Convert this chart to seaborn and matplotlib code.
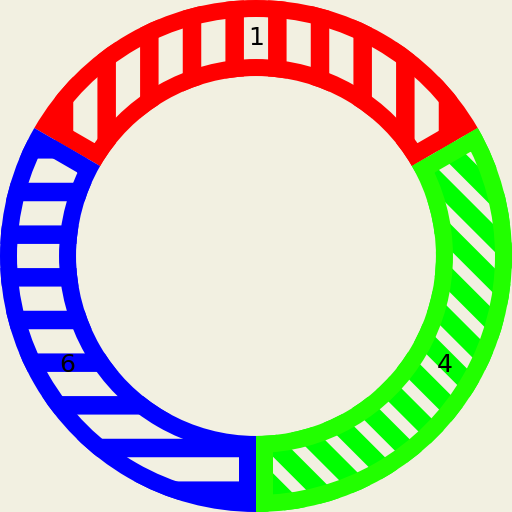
import matplotlib
matplotlib.use("Agg")
import matplotlib.pyplot as plt
import seaborn as sns

# wedge data (counterclockwise from 30 degrees)
labels = ["1", "6", "4"]
sizes = [1, 1, 1]
edge_colors = ["#ff0000", "#0000ff", "#22ff00"]
hatch_colors = ["#ff0000", "#0000ff", "#00ff00"]
hatches = ["|", "-", "\\\\"]

bg = "#f2f0e1"
DPI = 256

sns.set_theme(style="white", rc={"figure.facecolor": bg, "axes.facecolor": bg})
plt.rcParams["font.family"] = ["DejaVu Sans"]
plt.rcParams["hatch.linewidth"] = 5.2

fig = plt.figure(figsize=(512 / DPI, 512 / DPI), dpi=DPI)
ax = fig.add_axes([0, 0, 1, 1])

ring = 0.297

# hatched fill layer
fill_wedges, _ = ax.pie(sizes, startangle=30, radius=1, hatch=hatches,
                        colors=[bg] * 3,
                        wedgeprops=dict(width=ring, linewidth=0))
for w, c in zip(fill_wedges, hatch_colors):
    w.set_edgecolor(c)
    w.set_linewidth(0)

# outline layer (stroke kept inside each wedge) with labels
edge_wedges, texts = ax.pie(sizes, startangle=30, radius=1, labels=labels,
                            labeldistance=0.85,
                            textprops=dict(fontsize=25 * 72 / DPI, color="black"),
                            wedgeprops=dict(width=ring, linewidth=34 * 72 / DPI,
                                            facecolor="none"))
for w, fw, c in zip(edge_wedges, fill_wedges, edge_colors):
    w.set_edgecolor(c)
    w.set_facecolor("none")
    w.set_clip_on(True)
    w.set_clip_path(fw)
for t in texts:
    t.set_horizontalalignment("center")

ax.set_xlim(-1, 1)
ax.set_ylim(-1, 1)
ax.axis("off")

fig.savefig("out.png", dpi=DPI, facecolor=bg)
